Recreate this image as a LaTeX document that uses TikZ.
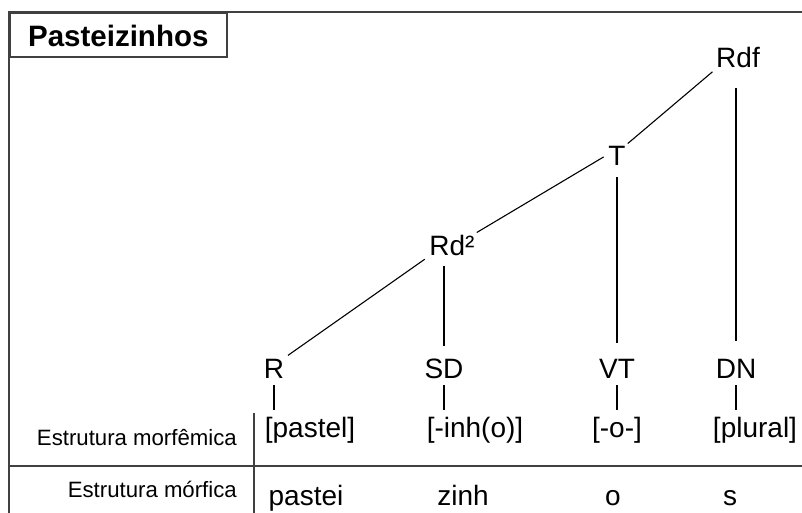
\documentclass[tikz,border=0pt]{standalone}
\usepackage{fontspec}
\setmainfont{Liberation Sans}
\usepackage{tikz}
\usetikzlibrary{positioning,calc}

\begin{document}
\begin{tikzpicture}[
    x=1pt, y=-1pt,
    treenode/.style={inner sep=2pt, anchor=base, font=\fontsize{28}{30}\selectfont},
    rowname/.style={inner sep=0pt, anchor=base east, font=\fontsize{22.2}{24}\selectfont},
    branch/.style={line width=1.1pt},
    tick/.style={line width=1.1pt, shorten <=5pt, shorten >=5pt},
    frame/.style={line width=2pt, draw=black!75}
]
    \useasboundingbox (0,0) rectangle (802,513);

    % Frame and title
    \draw [frame] (9,513) -- (9,12) -- (802,12);
    \node [draw=black!75, line width=1.6pt, anchor=north west,
           minimum width=217pt, minimum height=44pt,
           text height=24pt, text depth=0pt,
           font=\bfseries\fontsize{29.5}{32}\selectfont] (title) at (9,12) {Pasteizinhos};

    % Tree
    \node [treenode] (rdf) at (738,68) {Rdf};
    \node [treenode] (t) at (617,165) {T};
    \node [treenode] (rd2) at (452,255) {Rd²};
    \node [treenode] (r) at (274,378) {R};
    \node [treenode] (sd) at (444,378) {SD};
    \node [treenode] (vt) at (617,378) {VT};
    \node [treenode] (dn) at (736,378) {DN};

    % Morphemic structure
    \node [rowname] (morfemica) at (237,445) {Estrutura morfêmica};
    \node [treenode] (pastel) at (310,437) {[pastel]};
    \node [treenode] (inho) at (475,437) {[-inh(o)]};
    \node [treenode] (tema) at (617,437) {[-o-]};
    \node [treenode] (plural) at (755,437) {[plural]};

    % Morphic structure
    \node [rowname] (morfica) at (237,497) {Estrutura mórfica};
    \node [treenode] (pastei) at (306,505) {pastei};
    \node [treenode] (zinh) at (463,505) {zinh};
    \node [treenode] (o) at (613,505) {o};
    \node [treenode] (s) at (730,505) {s};

    % Branches
    \draw [branch, shorten <=2pt] (rdf.south west) -- (t.north east);
    \draw [branch, shorten <=3pt] (t.west) -- (rd2.north east);
    \draw [branch, shorten <=3pt, shorten >=2pt] (rd2.south west) -- (r.north east);
    \draw [branch, shorten <=18pt, shorten >=16pt] (dn.north |- rdf.south) -- (dn.north);
    \draw [branch, shorten <=10pt, shorten >=14pt] (vt.north |- t.south) -- (vt.north);
    \draw [branch, shorten <=9pt, shorten >=10pt] (sd.north |- rd2.south) -- (sd.north);

    \draw [tick] (r.south) -- (r.south |- pastel.north);
    \draw [tick] (sd.south) -- (sd.south |- inho.north);
    \draw [tick] (vt.south) -- (vt.south |- tema.north);
    \draw [tick] (dn.south) -- (dn.south |- plural.north);

    % Table rules
    \draw [frame] (9,466) -- (802,466);
    \draw [frame, line width=1.5pt] (254,413) -- (254,513);

\end{tikzpicture}
\end{document}
